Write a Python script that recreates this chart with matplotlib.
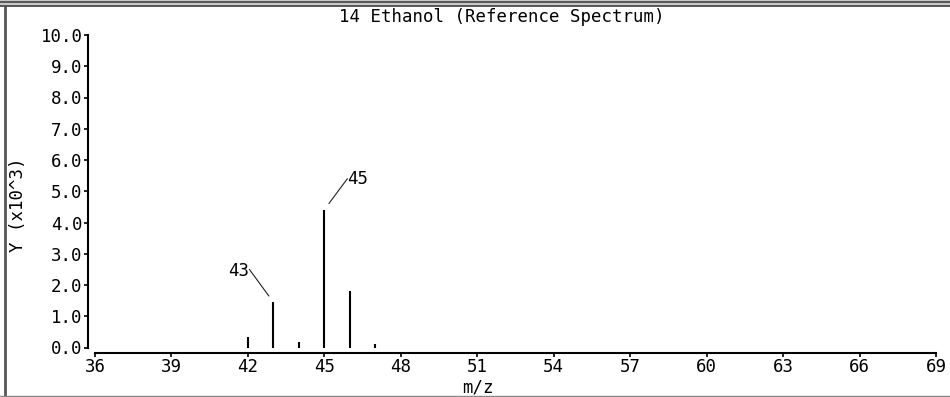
import matplotlib
matplotlib.use("Agg")
import matplotlib.pyplot as plt
from matplotlib.lines import Line2D
from matplotlib.patches import Rectangle

# Ethanol reference spectrum, intensities in units of 10^3
mz = [42, 43, 44, 45, 46, 47]
intensity = [0.35, 1.45, 0.17, 4.41, 1.82, 0.11]
labelled = [43, 45]

x_ticks = list(range(36, 70, 3))
y_ticks = [0, 1, 2, 3, 4, 5, 6, 7, 8, 9, 10]

W, H = 950, 397
plt.rcParams['font.family'] = ['DejaVu Sans Mono']
fig = plt.figure(figsize=(W / 100, H / 100), dpi=100)

# axes placed in pixel terms: m/z 36 at x=95, 69 at x=936, y 0 at 347, 10 at 35
left, right = 95, 936
top, bottom = 35, 347.5
ax = fig.add_axes([left / W, 1 - bottom / H, (right - left) / W, (bottom - top) / H])
ax.set_xlim(36, 69)
ax.set_ylim(0, 10)

ax.vlines(mz, 0, intensity, colors='black', linewidth=1.5)

# leader lines and labels for the main peaks
for m, v in zip(mz, intensity):
    if m not in labelled:
        continue
    if m == 43:
        off, ha, rel = (-24, 31), 'right', (1, 0.6)
    else:
        off, ha, rel = (23, 31), 'left', (0, 0.5)
    ax.annotate(str(m), xy=(m, v), xytext=off, textcoords='offset pixels',
                ha=ha, va='center', fontsize=12.5,
                arrowprops=dict(arrowstyle='-', lw=0.8, color='#222222',
                                patchA=None, shrinkA=0, shrinkB=5.5, relpos=rel))

for s in ['top', 'right']:
    ax.spines[s].set_visible(False)
ax.spines['left'].set_position(('outward', 5))
ax.spines['bottom'].set_position(('outward', 3.6))
ax.spines['left'].set_linewidth(1.5)
ax.spines['bottom'].set_linewidth(1.5)
ax.spines['bottom'].set_bounds(36, 69)

ax.set_xticks(x_ticks)
ax.set_xticklabels([str(t) for t in x_ticks])
ax.set_yticks(y_ticks)
ax.set_yticklabels([f"{t:.1f}" for t in y_ticks])
ax.tick_params(axis='both', direction='out', length=3, width=1.2, labelsize=12.5, pad=1)

fig.text(502 / W, 1 - 17 / H, "14 Ethanol (Reference Spectrum)",
         ha='center', va='center', fontsize=12.5)
fig.text(478 / W, 1 - 388 / H, "m/z", ha='center', va='center', fontsize=12.5)
fig.text(18 / W, 1 - 205 / H, "Y (x10^3)", ha='center', va='center',
         rotation=90, fontsize=12.5)

# window frame around the plot
fig.add_artist(Rectangle((0, 1 - 7 / H), 1, 7 / H, transform=fig.transFigure,
                         facecolor='#c8c8c8', edgecolor='none'))
for yy in [1.5, 5.5]:
    fig.add_artist(Line2D([0, 1], [1 - yy / H, 1 - yy / H], transform=fig.transFigure,
                          color='#444444', linewidth=1.2))
fig.add_artist(Line2D([5 / W, 5 / W], [1 - 6 / H, 1 - 396 / H], transform=fig.transFigure,
                      color='#555555', linewidth=2.0))
fig.add_artist(Line2D([0, 1], [1 - 395.5 / H, 1 - 395.5 / H], transform=fig.transFigure,
                      color='#888888', linewidth=1.0))

fig.savefig("out.png", dpi=100)
